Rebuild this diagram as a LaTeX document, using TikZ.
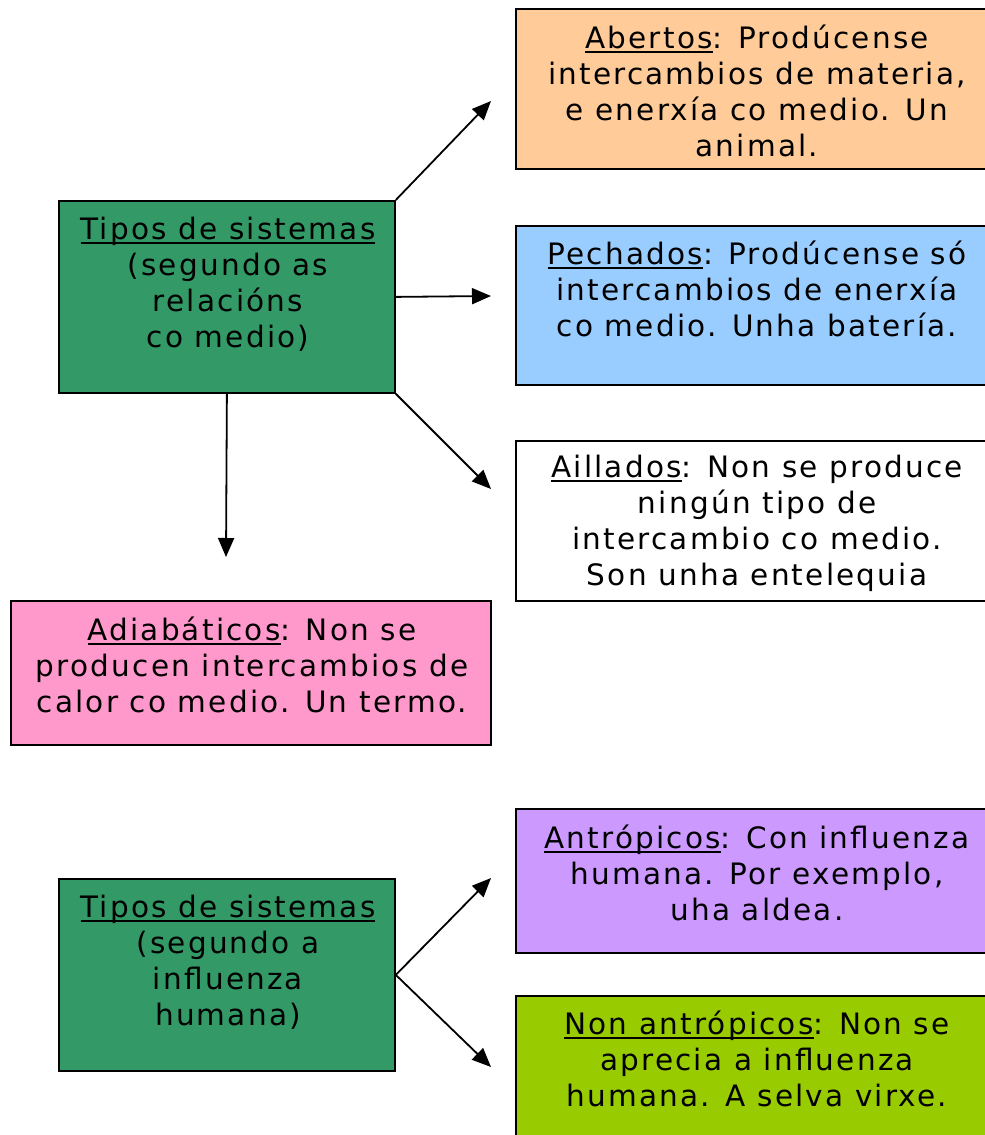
\documentclass[tikz,border=0pt]{standalone}
\usepackage{fontspec}
\setmainfont{DejaVu Sans}[LetterSpace=7.5]
\usetikzlibrary{arrows.meta}
\definecolor{cOrange}{HTML}{FFCC99}
\definecolor{cBlue}{HTML}{99CCFF}
\definecolor{cGreen}{HTML}{339966}
\definecolor{cPink}{HTML}{FF99CC}
\definecolor{cPurple}{HTML}{CC99FF}
\definecolor{cLime}{HTML}{99CC00}
\newcommand\ulx[1]{\setbox0\hbox{#1}\rlap{\rule[-4.5pt]{\wd0}{1.8pt}}\box0}
\begin{document}
\begin{tikzpicture}[x=1pt,y=-1pt,
  box/.style={draw=black,line width=1.8pt,rectangle,inner sep=0pt,anchor=north west},
  txt/.style={align=center,font=\fontsize{29.5}{36}\selectfont,inner sep=0pt},
  arr/.style={line width=1.8pt,-{Triangle[length=19pt,width=16pt]}}]
\useasboundingbox (0,0) rectangle (985,1135);
\fill[white] (0,0) rectangle (985,1135);
% boxes
\node[box,fill=cOrange,minimum width=480pt,minimum height=160pt] (ab) at (515,8) {};
\node[box,fill=cBlue,minimum width=480pt,minimum height=159pt] (pe) at (515,225) {};
\node[box,fill=white,minimum width=480pt,minimum height=160pt] (ai) at (515,440) {};
\node[box,fill=cGreen,minimum width=336pt,minimum height=192pt] (g1) at (58,200) {};
\node[box,fill=cPink,minimum width=480pt,minimum height=144pt] (ad) at (10,600) {};
\node[box,fill=cPurple,minimum width=480pt,minimum height=144pt] (an) at (515,808) {};
\node[box,fill=cLime,minimum width=480pt,minimum height=160pt] (na) at (515,995) {};
\node[box,fill=cGreen,minimum width=336pt,minimum height=192pt] (g2) at (58,878) {};
% texts
\node[txt] (abt) at (757,91) {\ulx{Abertos}: Prodúcense\\intercambios de materia,\\e enerxía co medio. Un\\animal.};
\node[txt] (pet) at (757,289) {\ulx{Pechados}: Prodúcense só\\intercambios de enerxía\\co medio. Unha batería.};
\node[txt] (ait) at (757,523) {\ulx{Aillados}: Non se produce\\ningún tipo de\\intercambio co medio.\\Son unha entelequia};
\node[txt] (g1t) at (228,284) {\ulx{Tipos de sistemas}\\(segundo as\\relacións\\co medio)};
\node[txt] (adt) at (252,665) {\ulx{Adiabáticos}: Non se\\producen intercambios de\\calor co medio. Un termo.};
\node[txt] (ant) at (757,873) {\ulx{Antrópicos}: Con influenza\\humana. Por exemplo,\\uha aldea.};
\node[txt] (nat) at (757,1059) {\ulx{Non antrópicos}: Non se\\aprecia a influenza\\humana. A selva virxe.};
\node[txt] (g2t) at (228,962) {\ulx{Tipos de sistemas}\\(segundo a\\influenza\\humana)};
% arrows
\coordinate (t1) at (491,101);
\coordinate (t2) at (491,296);
\coordinate (t3) at (491,489);
\coordinate (t4) at (226,557);
\coordinate (t5) at (491,878);
\coordinate (t6) at (491,1067);
\draw[arr] (g1.north east) -- (t1);
\draw[arr] (g1.east) -- (t2);
\draw[arr] (g1.south east) -- (t3);
\draw[arr] (g1.south) -- (t4);
\draw[arr] (g2.east) -- (t5);
\draw[arr] (g2.east) -- (t6);
\end{tikzpicture}
\end{document}
